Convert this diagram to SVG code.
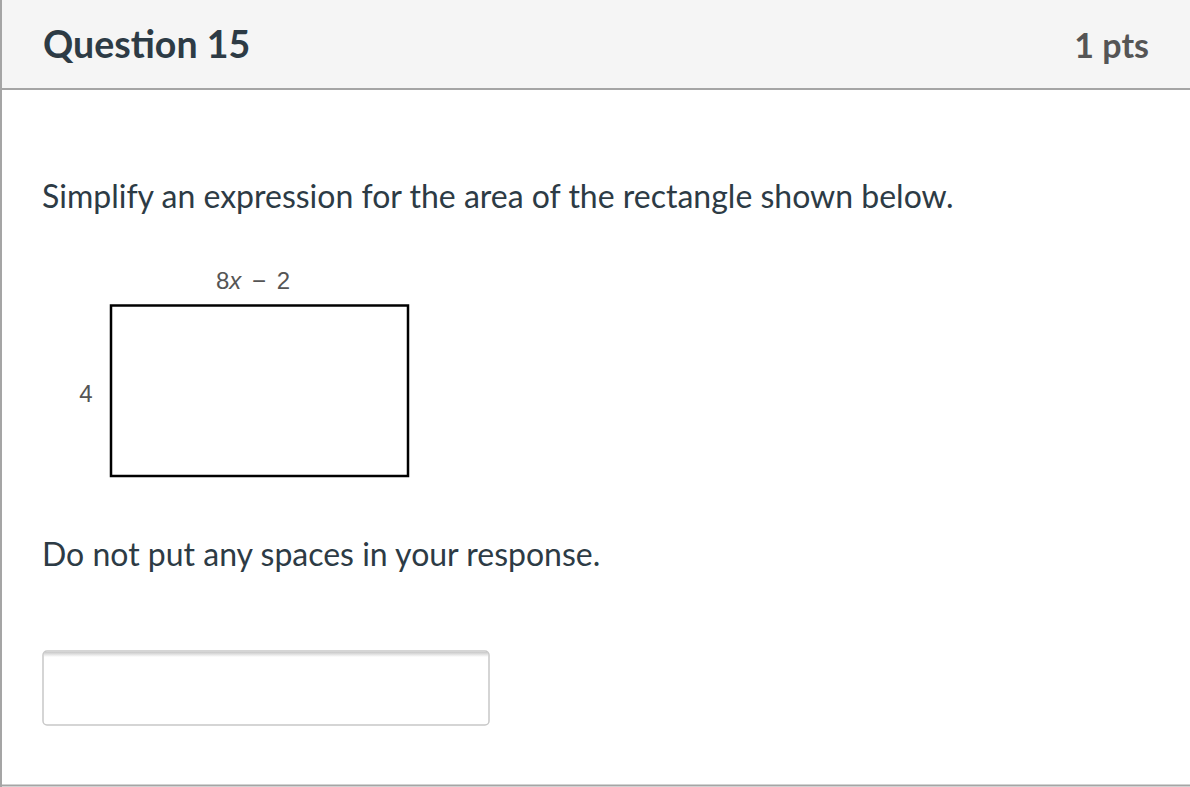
<svg xmlns="http://www.w3.org/2000/svg" width="1190" height="787" viewBox="0 0 1190 787">
<style>
.lato{font-family:Lato,"Liberation Sans",sans-serif}
.fig{font-family:"Liberation Sans",Arial,sans-serif;fill:#555;font-size:24px}
</style>
<defs>
<linearGradient id="sh" x1="0" y1="0" x2="0" y2="1">
<stop offset="0" stop-color="#c8c8c8"/>
<stop offset="1" stop-color="#ffffff"/>
</linearGradient>
</defs>
<rect x="0" y="0" width="1190" height="787" fill="#ffffff"/>
<g id="header">
<rect x="0" y="0" width="1190" height="88" fill="#f5f5f5"/>
<line x1="0" y1="89" x2="1190" y2="89" stroke="#a5a5a5" stroke-width="2"/>
<text x="43" y="58" class="lato" font-size="37.5" font-weight="bold" fill="#2d3b45">Question 15</text>
<text x="1149" y="58" class="lato" font-size="34" font-weight="bold" fill="#555" text-anchor="end">1 pts</text>
</g>
<line x1="1" y1="0" x2="1" y2="787" stroke="#a5a5a5" stroke-width="2"/>
<line x1="0" y1="785.5" x2="1190" y2="785.5" stroke="#a5a5a5" stroke-width="2"/>
<g id="prompt">
<text x="42" y="208" class="lato" font-size="32" fill="#2d3b45">Simplify an expression for the area of the rectangle shown below.</text>
</g>
<g id="figure">
<rect x="111" y="305.5" width="297" height="170.5" fill="#fff" stroke="#000" stroke-width="2.5"/>
<text x="216" y="289" class="fig" word-spacing="4">8<tspan font-style="italic">x</tspan> − 2</text>
<text x="86" y="402" class="fig" text-anchor="middle">4</text>
</g>
<g id="note">
<text x="42" y="566" class="lato" font-size="32" fill="#2d3b45">Do not put any spaces in your response.</text>
</g>
<g id="answer">
<rect x="43" y="651" width="446" height="74" rx="4" fill="#fff" stroke="#c8c8c8" stroke-width="1.5"/>
<rect x="44" y="652" width="444" height="5" fill="url(#sh)"/>
</g>
</svg>
